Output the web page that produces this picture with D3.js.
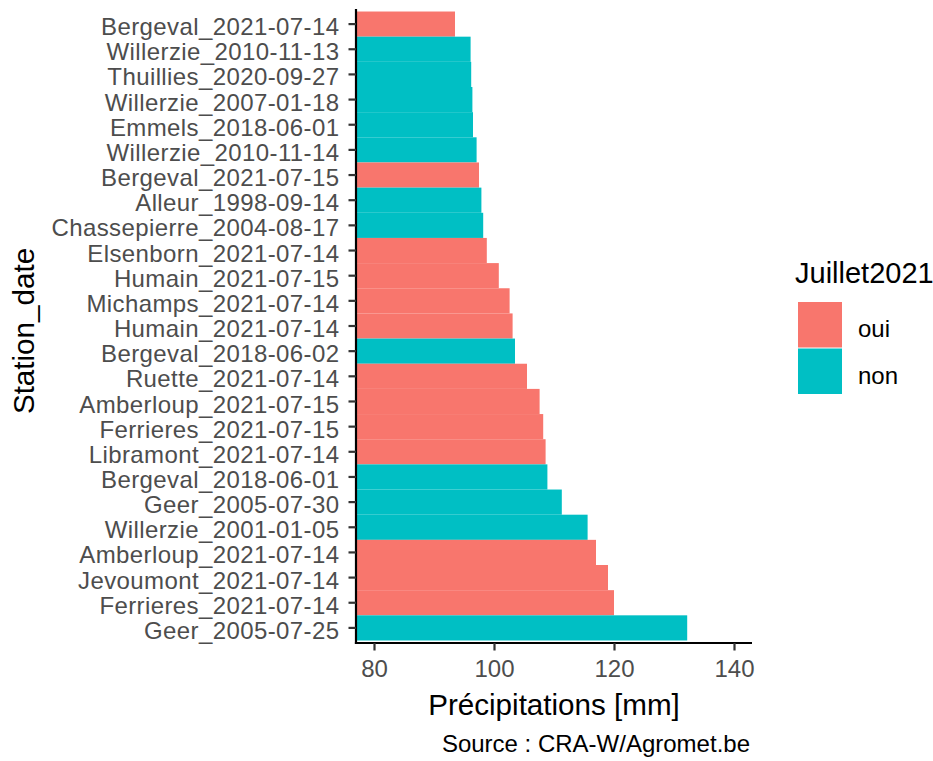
<!DOCTYPE html>
<html>
<head>
<meta charset="utf-8">
<script src="https://cdn.jsdelivr.net/npm/d3@7/dist/d3.min.js"></script>
<style>
  html, body { margin: 0; padding: 0; background: #fff; }
  svg { display: block; font-family: "Liberation Sans", Arial, sans-serif; }
</style>
</head>
<body>
<svg id="chart" width="933" height="761"></svg>
<script>
const categories = [
  "Bergeval_2021-07-14", "Willerzie_2010-11-13", "Thuillies_2020-09-27",
  "Willerzie_2007-01-18", "Emmels_2018-06-01", "Willerzie_2010-11-14",
  "Bergeval_2021-07-15", "Alleur_1998-09-14", "Chassepierre_2004-08-17",
  "Elsenborn_2021-07-14", "Humain_2021-07-15", "Michamps_2021-07-14",
  "Humain_2021-07-14", "Bergeval_2018-06-02", "Ruette_2021-07-14",
  "Amberloup_2021-07-15", "Ferrieres_2021-07-15", "Libramont_2021-07-14",
  "Bergeval_2018-06-01", "Geer_2005-07-30", "Willerzie_2001-01-05",
  "Amberloup_2021-07-14", "Jevoumont_2021-07-14", "Ferrieres_2021-07-14",
  "Geer_2005-07-25"
];
const precip = [
  93.5, 96.1, 96.2, 96.4, 96.5, 97.1, 97.5, 97.9, 98.2, 98.8, 100.8, 102.6,
  103.1, 103.5, 105.5, 107.6, 108.2, 108.6, 108.9, 111.3, 115.6, 117.0,
  119.0, 120.0, 132.2
];
const juillet2021 = [
  "oui", "non", "non", "non", "non", "non", "oui", "non", "non", "oui", "oui",
  "oui", "oui", "non", "oui", "oui", "oui", "oui", "non", "non", "non", "oui",
  "oui", "oui", "non"
];
const xTicks = [80, 100, 120, 140];
const groups = ["oui", "non"];
const groupColors = ["#F8766D", "#00BFC4"];

const data = categories.map((c, i) => ({ name: c, value: precip[i], group: juillet2021[i] }));

const svg = d3.select("#chart");
const panel = { left: 356, right: 752, top: 9, bottom: 643 };

const x = d3.scaleLinear().domain([77, 143]).range([panel.left, panel.right]);
const y = d3.scaleBand().domain(categories).range([panel.top, panel.bottom])
  .paddingInner(0).paddingOuter(0.1);
const color = d3.scaleOrdinal().domain(groups).range(groupColors);

// bars
svg.append("g").selectAll("rect").data(data).join("rect")
  .attr("x", x(77))
  .attr("y", d => y(d.name))
  .attr("width", d => x(d.value) - x(77))
  .attr("height", y.bandwidth())
  .attr("fill", d => color(d.group));

// y axis
const yAxis = svg.append("g")
  .attr("transform", `translate(${panel.left},0)`)
  .call(d3.axisLeft(y).tickSizeOuter(0).tickSize(7.5).tickPadding(9));
yAxis.select(".domain").attr("stroke", "#000").attr("stroke-width", 2.2)
  .attr("d", `M0,${panel.top}V${panel.bottom + 1.1}`);
yAxis.selectAll(".tick line").attr("stroke", "#333").attr("stroke-width", 2.2);
yAxis.selectAll(".tick text")
  .attr("fill", "#4D4D4D").attr("font-size", 24).attr("letter-spacing", "0.4px")
  .attr("dy", "0.46em")
  .attr("font-family", "Liberation Sans, Arial, sans-serif");

// x axis
const xAxis = svg.append("g")
  .attr("transform", `translate(0,${panel.bottom})`)
  .call(d3.axisBottom(x).tickValues(xTicks).tickSizeOuter(0).tickSize(7.5).tickPadding(9));
xAxis.select(".domain").attr("stroke", "#000").attr("stroke-width", 2.2)
  .attr("d", `M${panel.left - 1.1},0H${panel.right}`);
xAxis.selectAll(".tick line").attr("stroke", "#333").attr("stroke-width", 2.2);
xAxis.selectAll(".tick text")
  .attr("fill", "#4D4D4D").attr("font-size", 24).attr("dy", "0.72em")
  .attr("font-family", "Liberation Sans, Arial, sans-serif");

// axis titles
svg.append("text")
  .attr("x", (panel.left + panel.right) / 2).attr("y", 715)
  .attr("text-anchor", "middle").attr("font-size", 29.6).attr("fill", "#000")
  .text("Précipitations [mm]");
svg.append("text")
  .attr("transform", `translate(34,${(panel.top + panel.bottom) / 2 + 5}) rotate(-90)`)
  .attr("text-anchor", "middle").attr("font-size", 29.6).attr("fill", "#000")
  .text("Station_date");

// caption
svg.append("text")
  .attr("x", panel.right - 2).attr("y", 752)
  .attr("text-anchor", "end").attr("font-size", 24).attr("fill", "#000")
  .text("Source : CRA-W/Agromet.be");

// legend
const legend = svg.append("g");
legend.append("text").attr("x", 795).attr("y", 283)
  .attr("font-size", 29).attr("fill", "#000").text("Juillet2021");
const keySize = 45.5;
groups.forEach((g, i) => {
  const top = 302 + i * 46.5;
  legend.append("rect").attr("x", 798).attr("y", top)
    .attr("width", 44).attr("height", keySize).attr("fill", color(g));
  legend.append("text").attr("x", 858).attr("y", top + 35)
    .attr("font-size", 24).attr("fill", "#000").text(g);
});
</script>
</body>
</html>
